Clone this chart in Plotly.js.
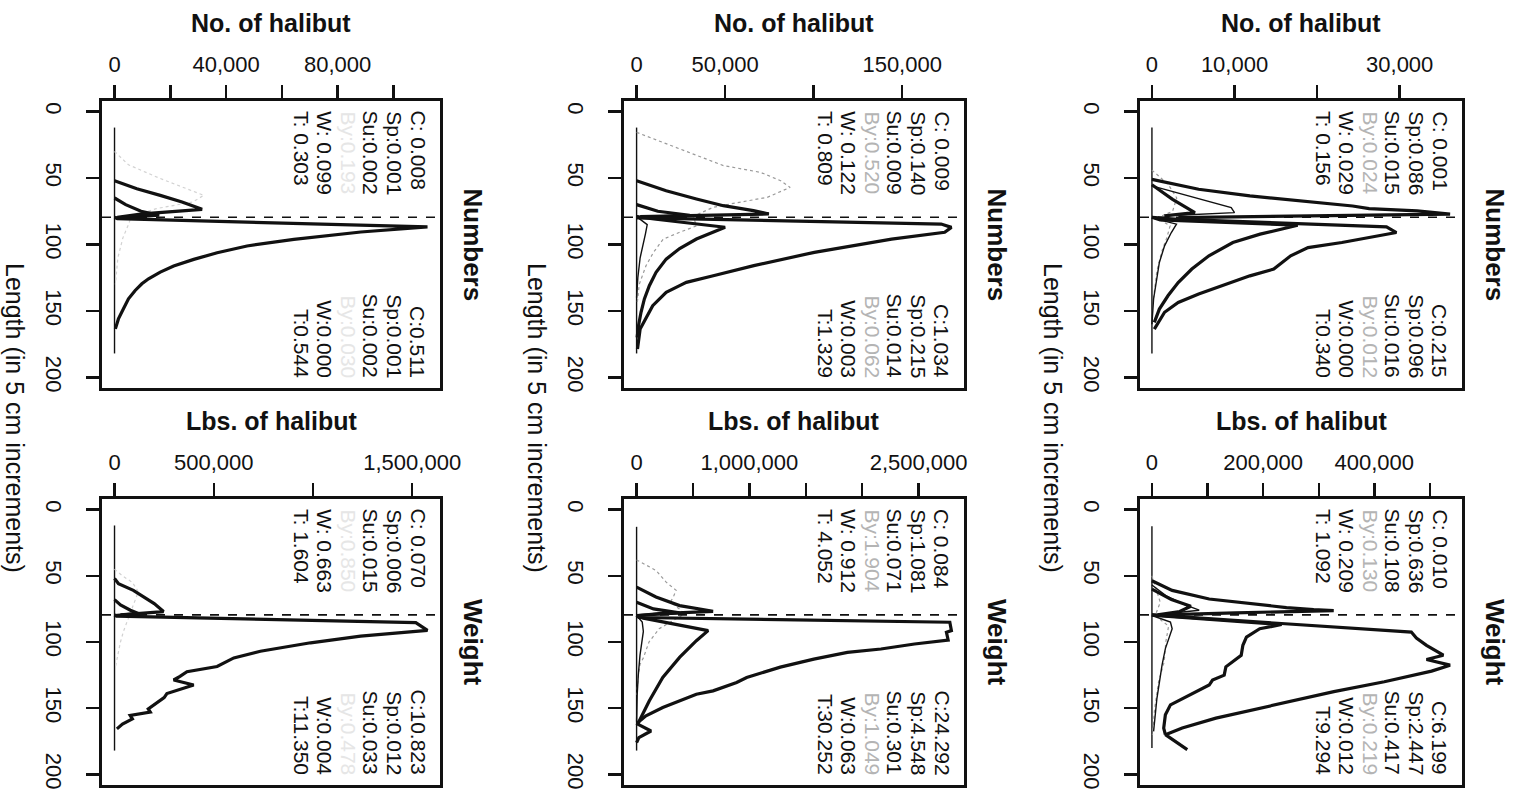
<!DOCTYPE html>
<html>
<head>
<meta charset="utf-8">
<script src="https://cdn.plot.ly/plotly-3.0.1.min.js"></script>
<style>html,body{margin:0;padding:0;background:#fff;}#chart{width:1519px;height:796px;}</style>
</head>
<body>
<div id="chart"></div>
<script>
// ---------------- DATA ----------------
const legalLen = 79.5;
const lengthTicks = [0, 50, 100, 150, 200];

// Panel n1: left column, Numbers
const n1_ticks = [0, 20000, 40000, 60000, 80000, 100000];
const n1_tickText = ["0", "", "40,000", "", "80,000", ""];
const n1_zero_len = [12, 40, 80, 120, 160, 182];
const n1_zero_val = [0, 0, 0, 0, 0, 0];
const n1_big_len = [79.5, 80.5, 86.8, 90.6, 96.1, 101.1, 106.2, 111.2, 116.2, 120.8, 125.8, 129.6, 134.6, 140.9, 148.4, 156, 163.5];
const n1_big_val = [0, 1000, 112200, 88300, 64300, 47500, 36800, 28400, 21200, 16400, 12200, 9800, 7400, 5000, 3200, 1400, 300];
const n1_sub_len = [52, 58, 63, 68, 73.5, 77, 79.5];
const n1_sub_val = [0, 8000, 16400, 24200, 31400, 10000, 1000];
const n1_inner_len = [65, 70, 75, 78, 80];
const n1_inner_val = [0, 4000, 9500, 16000, 500];
const n1_by_len = [30, 40, 50, 57, 63, 68, 73, 79, 85, 95, 110, 130];
const n1_by_val = [0, 5000, 16000, 25000, 32000, 28000, 15000, 6000, 5000, 3000, 1200, 300];
const n1_topText = ["C: 0.008", "Sp:0.001", "Su:0.002", "By:0.193", "W: 0.099", "T: 0.303"];
const n1_botText = ["C:0.511", "Sp:0.001", "Su:0.002", "By:0.030", "W:0.000", "T:0.544"];

// Panel n2: middle column, Numbers
const n2_ticks = [0, 50000, 100000, 150000];
const n2_tickText = ["0", "50,000", "", "150,000"];
const n2_zero_len = [12, 40, 80, 120, 160, 182];
const n2_zero_val = [0, 0, 0, 0, 0, 0];
const n2_big_len = [79, 80, 84.6, 87.1, 90.8, 95.9, 105.9, 115.9, 123.5, 128.5, 131, 136, 146, 156, 163.6, 178.7];
const n2_big_val = [0, 2000, 172000, 177800, 174000, 144000, 100400, 66200, 43300, 28100, 24300, 16700, 9100, 5300, 2000, 500];
const n2_mid_len = [79, 81, 87, 90.8, 95.9, 103, 111, 121, 131, 141, 151, 161, 170];
const n2_mid_val = [0, 11000, 50000, 43300, 33800, 24300, 16700, 11000, 7200, 4400, 2500, 1100, 300];
const n2_sub_len = [52, 59.5, 65.7, 70.8, 74.5, 77, 79];
const n2_sub_val = [0, 16700, 33800, 49000, 66000, 74700, 2000];
const n2_inner_len = [70, 75, 78, 80];
const n2_inner_val = [0, 12000, 30000, 0];
const n2_small_len = [79, 85, 92, 100, 110, 125, 140];
const n2_small_val = [0, 6000, 5000, 3500, 2000, 700, 0];
const n2_by_len = [15.6, 23, 33, 40.6, 45.7, 52, 57, 64.5, 69.5, 72, 78.8, 82, 86, 91, 96, 106, 116, 130, 145];
const n2_by_val = [0, 14800, 33800, 49000, 70000, 81400, 86700, 73800, 52800, 43300, 32000, 33000, 33800, 24000, 15000, 9500, 5300, 1500, 300];
const n2_topText = ["C: 0.009", "Sp:0.140", "Su:0.009", "By:0.520", "W: 0.122", "T: 0.809"];
const n2_botText = ["C:1.034", "Sp:0.215", "Su:0.014", "By:0.062", "W:0.003", "T:1.329"];

// Panel n3: right column, Numbers
const n3_ticks = [0, 10000, 20000, 30000];
const n3_tickText = ["0", "10,000", "", "30,000"];
const n3_zero_len = [12, 40, 80, 120, 160, 182];
const n3_zero_val = [0, 0, 0, 0, 0, 0];
const n3_big_len = [79.5, 81, 86.7, 91, 98.5, 102.3, 108.5, 113.5, 118.5, 123.6, 129.8, 137.3, 143.6, 151, 163.7];
const n3_big_val = [0, 3180, 28400, 29600, 23000, 18900, 16800, 15800, 14750, 11860, 8970, 5660, 3180, 1530, 290];
const n3_mid_len = [79.5, 81.5, 85.5, 92.2, 98.5, 108.5, 118.5, 128.6, 138.6, 148.6, 158.6];
const n3_mid_val = [0, 1000, 17650, 13100, 9800, 6900, 4830, 3180, 1940, 900, 290];
const n3_sub_len = [51, 58.4, 63.4, 67.2, 71, 73, 74.7, 77.2, 79.7];
const n3_sub_val = [0, 5660, 11860, 18000, 24300, 26300, 32100, 36100, 3200];
const n3_rect_len = [55.9, 72.2, 76, 78];
const n3_rect_val = [0, 9600, 10000, 3200];
const n3_inner_len = [55, 66, 76, 78.5];
const n3_inner_val = [0, 2500, 5200, 1500];
const n3_small_len = [80, 84.7, 91, 101, 113.5, 128.6, 141, 160];
const n3_small_val = [0, 2970, 2350, 1530, 900, 500, 200, 0];
const n3_by_len = [44, 55, 65, 75, 80, 86, 95, 105, 120, 140];
const n3_by_val = [0, 2000, 3000, 2500, 600, 2200, 1800, 1200, 600, 200];
const n3_topText = ["C: 0.001", "Sp:0.086", "Su:0.015", "By:0.024", "W: 0.029", "T: 0.156"];
const n3_botText = ["C:0.215", "Sp:0.096", "Su:0.016", "By:0.012", "W:0.000", "T:0.340"];

// Panel w1: left column, Weight
const w1_ticks = [0, 500000, 1000000, 1500000];
const w1_tickText = ["0", "500,000", "", "1,500,000"];
const w1_zero_len = [12, 40, 80, 120, 160, 182];
const w1_zero_val = [0, 0, 0, 0, 0, 0];
const w1_big_len = [79.5, 80.5, 85.4, 91.2, 95.5, 100.6, 107, 112, 118.5, 121, 122.5, 126, 128.7, 132.5, 136.3, 138.9, 142, 147.8, 150.5, 152.9, 155.4, 158, 162, 165.6];
const w1_big_val = [0, 10000, 1518000, 1577000, 1240000, 988000, 735000, 601000, 517000, 432000, 365000, 330000, 298000, 399000, 315000, 264000, 250000, 197000, 170000, 180000, 79000, 90000, 40000, 12000];
const w1_sub_len = [52, 56, 61, 66, 71, 77, 79.5];
const w1_sub_val = [0, 20000, 95000, 150000, 200000, 247000, 30000];
const w1_inner_len = [68, 72, 76, 78.5, 80];
const w1_inner_val = [0, 30000, 80000, 120000, 0];
const w1_by_len = [45, 50, 55, 62, 70, 78, 85, 92, 100, 110, 120];
const w1_by_val = [0, 40000, 90000, 120000, 100000, 80000, 60000, 45000, 30000, 15000, 3000];
const w1_topText = ["C: 0.070", "Sp:0.006", "Su:0.015", "By:0.850", "W: 0.663", "T: 1.604"];
const w1_botText = ["C:10.823", "Sp:0.012", "Su:0.033", "By:0.478", "W:0.004", "T:11.350"];

// Panel w2: middle column, Weight
const w2_ticks = [0, 500000, 1000000, 1500000, 2000000, 2500000];
const w2_tickText = ["0", "", "1,000,000", "", "", "2,500,000"];
const w2_zero_len = [13, 40, 80, 120, 160, 182];
const w2_zero_val = [0, 0, 0, 0, 0, 0];
const w2_big_len = [80, 81.5, 85.1, 91.4, 92.7, 98.5, 101.5, 105.3, 107.8, 112.9, 119, 126.8, 130.6, 136.9, 139.4, 144.4, 149.5, 155.8, 160.9];
const w2_big_val = [0, 20000, 2777000, 2791000, 2747000, 2762000, 2464000, 2166000, 1869000, 1571000, 1274000, 976000, 887000, 678000, 530000, 381000, 232000, 83000, 9000];
const w2_mid_len = [80, 82, 91.4, 99, 111.6, 126.8, 144.4, 159.6, 162, 167.2, 172.2, 176];
const w2_mid_val = [0, 60000, 634000, 530000, 381000, 232000, 113000, 24000, 10000, 128000, 20000, 0];
const w2_sub_len = [58.6, 66, 72.5, 76.8, 78.5, 80];
const w2_sub_val = [0, 172000, 381000, 678000, 200000, 20000];
const w2_inner_len = [70, 75, 78, 80];
const w2_inner_val = [0, 150000, 380000, 0];
const w2_small_len = [80, 85, 92, 100, 110, 125, 140, 160];
const w2_small_val = [0, 50000, 60000, 45000, 30000, 15000, 5000, 0];
const w2_by_len = [38, 46, 54.8, 61, 65, 70, 75, 79, 81, 90, 100, 112, 117, 125, 140];
const w2_by_val = [0, 172600, 262000, 351000, 330000, 300000, 380000, 420000, 380000, 200000, 110000, 60000, 30000, 15000, 3000];
const w2_topText = ["C: 0.084", "Sp:1.081", "Su:0.071", "By:1.904", "W: 0.912", "T: 4.052"];
const w2_botText = ["C:24.292", "Sp:4.548", "Su:0.301", "By:1.049", "W:0.063", "T:30.252"];

// Panel w3: right column, Weight
const w3_ticks = [0, 100000, 200000, 300000, 400000, 500000];
const w3_tickText = ["0", "", "200,000", "", "400,000", ""];
const w3_zero_len = [12.5, 40, 80, 120, 160, 180];
const w3_zero_val = [0, 0, 0, 0, 0, 0];
const w3_big_len = [79.5, 80.5, 92.5, 97, 102.5, 110, 113.25, 117.5, 122, 130, 137.5, 148.75, 157.5, 165, 170, 181.25];
const w3_big_val = [0, 33300, 466600, 475700, 493900, 524200, 493900, 536300, 503000, 418000, 327200, 206000, 115100, 54500, 24200, 63600];
const w3_mid_len = [79.5, 80.5, 86.75, 90, 96.25, 102.5, 110, 115, 118.75, 125, 128.75, 132.5, 137.5, 142.5, 147.5, 155, 165, 170];
const w3_mid_val = [0, 24000, 233300, 194000, 170000, 163600, 160600, 145000, 133000, 130000, 109000, 103000, 78800, 54500, 33300, 24200, 21200, 24200];
const w3_sub_len = [53.75, 61, 67.5, 71, 74, 75.5, 76.25, 78, 79.5];
const w3_sub_val = [0, 36400, 103000, 176000, 242000, 291000, 327000, 150000, 20000];
const w3_thin_len = [57, 65, 72, 76, 78.5, 80];
const w3_thin_val = [0, 25000, 60000, 85000, 30000, 0];
const w3_inner_len = [60, 68, 73, 77, 79.5];
const w3_inner_val = [0, 35000, 70000, 50000, 10000];
const w3_small_len = [80, 85, 90, 105, 117.5, 142.5, 167.5];
const w3_small_val = [0, 33300, 36400, 24200, 18200, 9000, 3000];
const w3_by_len = [50, 60, 70, 80, 88, 100, 115, 130, 150, 170];
const w3_by_val = [0, 8000, 15000, 6000, 30000, 25000, 22000, 12000, 5000, 1000];
const w3_topText = ["C: 0.010", "Sp:0.636", "Su:0.108", "By:0.130", "W: 0.209", "T: 1.092"];
const w3_botText = ["C:6.199", "Sp:2.447", "Su:0.417", "By:0.219", "W:0.012", "T:9.294"];

const numbersTitle = "No. of halibut";
const weightTitle = "Lbs. of halibut";
const lengthTitle = "Length (in 5 cm increments)";
const rowLabels = ["Numbers", "Weight"];

// ---------------- LAYOUT / DRAWING ----------------
const W = 1519, H = 796;
const FONT = "Liberation Sans, Arial, Helvetica, sans-serif";
const INK = "#111";
const colBoxes = [[102, 440], [624, 964], [1140, 1462]];
const rowBoxes = [[101, 388], [499, 785]];

const panels = [
  {col:0,row:0,ticks:n1_ticks,tt:n1_tickText,top:n1_topText,bot:n1_botText,byCol:"#e6e6e6",
   series:[[n1_zero_len,n1_zero_val,"thin"],[n1_by_len,n1_by_val,"faint"],[n1_inner_len,n1_inner_val,"thick"],[n1_sub_len,n1_sub_val,"thick"],[n1_big_len,n1_big_val,"thick"]]},
  {col:1,row:0,ticks:n2_ticks,tt:n2_tickText,top:n2_topText,bot:n2_botText,byCol:"#b4b4b4",
   series:[[n2_zero_len,n2_zero_val,"thin"],[n2_by_len,n2_by_val,"grey"],[n2_small_len,n2_small_val,"thin"],[n2_inner_len,n2_inner_val,"thick"],[n2_sub_len,n2_sub_val,"thick"],[n2_mid_len,n2_mid_val,"thick"],[n2_big_len,n2_big_val,"thick"]]},
  {col:2,row:0,ticks:n3_ticks,tt:n3_tickText,top:n3_topText,bot:n3_botText,byCol:"#b4b4b4",
   series:[[n3_zero_len,n3_zero_val,"thin"],[n3_by_len,n3_by_val,"grey"],[n3_small_len,n3_small_val,"thin"],[n3_rect_len,n3_rect_val,"thin"],[n3_inner_len,n3_inner_val,"thick"],[n3_sub_len,n3_sub_val,"thick"],[n3_mid_len,n3_mid_val,"thick"],[n3_big_len,n3_big_val,"thick"]]},
  {col:0,row:1,ticks:w1_ticks,tt:w1_tickText,top:w1_topText,bot:w1_botText,byCol:"#e6e6e6",
   series:[[w1_zero_len,w1_zero_val,"thin"],[w1_by_len,w1_by_val,"faint"],[w1_inner_len,w1_inner_val,"thick"],[w1_sub_len,w1_sub_val,"thick"],[w1_big_len,w1_big_val,"thick"]]},
  {col:1,row:1,ticks:w2_ticks,tt:w2_tickText,top:w2_topText,bot:w2_botText,byCol:"#b4b4b4",
   series:[[w2_zero_len,w2_zero_val,"thin"],[w2_by_len,w2_by_val,"grey"],[w2_small_len,w2_small_val,"thin"],[w2_inner_len,w2_inner_val,"thick"],[w2_sub_len,w2_sub_val,"thick"],[w2_mid_len,w2_mid_val,"thick"],[w2_big_len,w2_big_val,"thick"]]},
  {col:2,row:1,ticks:w3_ticks,tt:w3_tickText,top:w3_topText,bot:w3_botText,byCol:"#b4b4b4",
   series:[[w3_zero_len,w3_zero_val,"thin"],[w3_by_len,w3_by_val,"grey"],[w3_small_len,w3_small_val,"thin"],[w3_thin_len,w3_thin_val,"thin"],[w3_inner_len,w3_inner_val,"thick"],[w3_sub_len,w3_sub_val,"thick"],[w3_mid_len,w3_mid_val,"thick"],[w3_big_len,w3_big_val,"thick"]]}
];

const styles = {
  thick: {color: INK, width: 3.2},
  thin: {color: INK, width: 1.4},
  grey: {color: "#9a9a9a", width: 1.2, dash: "dot"},
  faint: {color: "#d2d2d2", width: 1.2, dash: "dot"}
};

const data = [];
const layout = {
  width: W, height: H,
  margin: {l: 0, r: 0, t: 0, b: 0},
  paper_bgcolor: "#fff", plot_bgcolor: "#fff",
  showlegend: false,
  font: {family: FONT, color: INK},
  shapes: [], annotations: []
};

panels.forEach((p, i) => {
  const k = i + 1;
  const xs = k === 1 ? "" : String(k);
  const [x0, x1] = colBoxes[p.col];
  const [y0, y1] = rowBoxes[p.row];
  let maxV = 0;
  p.series.forEach(s => s[1].forEach(v => { if (v > maxV) maxV = v; }));
  layout["xaxis" + xs] = {
    domain: [x0 / W, x1 / W], range: [-0.04 * maxV, 1.04 * maxV],
    anchor: "y" + xs, side: "top",
    tickmode: "array", tickvals: p.ticks, ticktext: p.tt,
    ticks: "outside", ticklen: 13, tickwidth: 2.4, tickcolor: INK,
    showline: true, linewidth: 2.6, linecolor: INK, mirror: true,
    showgrid: false, zeroline: false, fixedrange: true,
    tickfont: {family: FONT, size: 22, color: INK}, ticklabelstandoff: 5
  };
  layout["yaxis" + xs] = {
    domain: [1 - y1 / H, 1 - y0 / H], range: [208, -8],
    anchor: "x" + xs,
    tickmode: "array", tickvals: lengthTicks, ticktext: lengthTicks.map(String),
    tickangle: 90,
    ticks: "outside", ticklen: 13, tickwidth: 2.4, tickcolor: INK,
    showline: true, linewidth: 2.6, linecolor: INK, mirror: true,
    showgrid: false, zeroline: false, fixedrange: true,
    tickfont: {family: FONT, size: 22, color: INK}, ticklabelstandoff: 14
  };
  p.series.forEach(s => {
    data.push({
      type: "scatter", mode: "lines", x: s[1], y: s[0],
      xaxis: "x" + xs, yaxis: "y" + xs,
      line: Object.assign({}, styles[s[2]]), hoverinfo: "skip"
    });
  });
  layout.shapes.push({
    type: "line", xref: "x" + xs + " domain", x0: 0, x1: 1,
    yref: "y" + xs, y0: legalLen, y1: legalLen,
    line: {color: INK, width: 1.6, dash: "dash"}
  });
  // stats text columns
  const step = 23.3;
  [p.top, p.bot].forEach((lines, b) => {
    lines.forEach((t, j) => {
      const cx = x1 - 22 - j * step;
      layout.annotations.push({
        xref: "paper", yref: "paper", x: cx / W,
        y: b === 0 ? 1 - (y0 + 9) / H : 1 - (y1 - 9) / H,
        xanchor: "center", yanchor: b === 0 ? "top" : "bottom",
        text: t, textangle: 90, showarrow: false, borderpad: 0,
        font: {family: FONT, size: 21, color: t.startsWith("By") ? p.byCol : INK}
      });
    });
  });
  // axis title above
  layout.annotations.push({
    xref: "paper", yref: "paper", x: ((x0 + x1) / 2) / W,
    y: 1 - (p.row === 0 ? 23 : 421) / H, xanchor: "center", yanchor: "middle",
    text: p.row === 0 ? numbersTitle : weightTitle, showarrow: false,
    font: {family: FONT, size: 25, color: INK, weight: "bold"}
  });
  // row label on the right
  layout.annotations.push({
    xref: "paper", yref: "paper", x: (x1 + 33) / W,
    y: 1 - ((y0 + y1) / 2) / H, xanchor: "center", yanchor: "middle",
    text: "<b>" + rowLabels[p.row] + "</b>", textangle: 90, showarrow: false,
    font: {family: FONT, size: 26, color: INK}
  });
});

// Length labels per column
colBoxes.forEach(c => {
  layout.annotations.push({
    xref: "paper", yref: "paper", x: (c[0] - 87) / W, y: 1 - 418 / H,
    xanchor: "center", yanchor: "middle", text: lengthTitle, textangle: 90,
    showarrow: false, font: {family: FONT, size: 25, color: INK}
  });
});

Plotly.newPlot("chart", data, layout, {staticPlot: true, displayModeBar: false});
</script>
</body>
</html>
